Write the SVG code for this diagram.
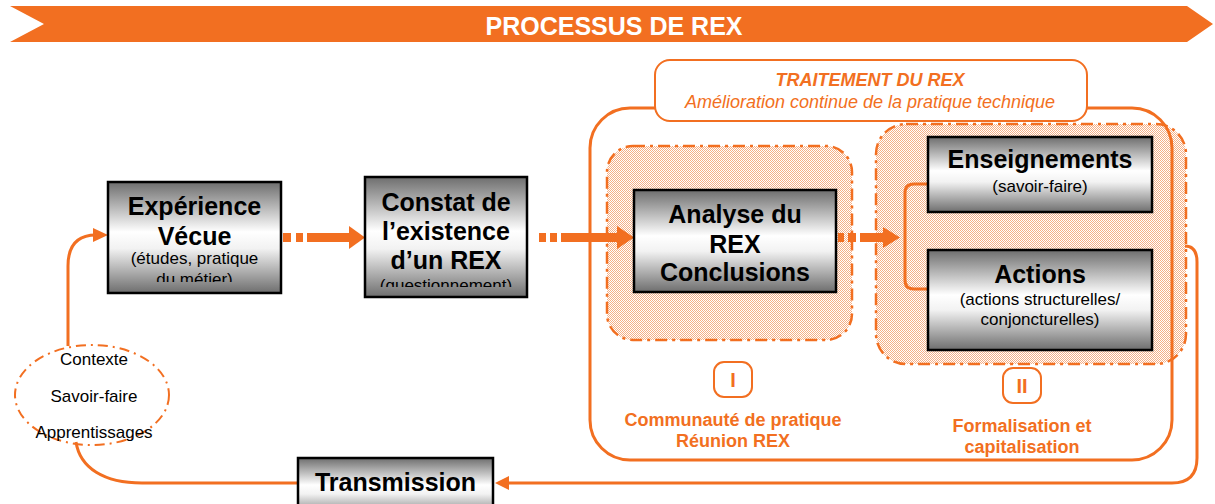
<svg xmlns="http://www.w3.org/2000/svg" width="1215" height="504" viewBox="0 0 1215 504">
<defs>
<linearGradient id="boxg" x1="0" y1="0" x2="0" y2="1">
<stop offset="0" stop-color="#6e6e6e"/>
<stop offset="0.45" stop-color="#ffffff"/>
<stop offset="0.6" stop-color="#f2f2f2"/>
<stop offset="1" stop-color="#6e6e6e"/>
</linearGradient>
<pattern id="hatch" width="2" height="2" patternUnits="userSpaceOnUse">
<rect width="2" height="2" fill="#ffffff"/>
<rect width="1" height="1" fill="#f5b087"/>
<rect x="1" y="1" width="1" height="1" fill="#f5b087"/>
</pattern>
<clipPath id="c1"><rect x="108" y="182" width="173" height="100"/></clipPath>
<clipPath id="c2"><rect x="365" y="177" width="162" height="110"/></clipPath>
</defs>
<style>
.box{fill:url(#boxg);stroke:#000;stroke-width:2.5}
.h{font-family:"Liberation Sans",Arial,sans-serif;font-weight:bold;font-size:25px;fill:#000;text-anchor:middle}
.s{font-family:"Liberation Sans",Arial,sans-serif;font-size:17px;fill:#000;text-anchor:middle}
.o{fill:#f26f21}
.ol{fill:none;stroke:#f26f21;stroke-width:3}
.reg{fill:url(#hatch);stroke:#f26f21;stroke-width:2.5;stroke-dasharray:12 5 3 5}
.ot{font-family:"Liberation Sans",Arial,sans-serif;font-weight:bold;font-size:18px;fill:#f26f21;text-anchor:middle}
.lb{fill:#fff;stroke:#f26f21;stroke-width:2}
</style>

<g id="banner">
<polygon class="o" points="10,6 1187,6 1213,24 1187,42 10,42 44,24"/>
<text x="614" y="35" text-anchor="middle" font-family="Liberation Sans, Arial, sans-serif" font-weight="bold" font-size="25" fill="#fff">PROCESSUS DE REX</text>
</g>

<g id="region-I">
<rect class="reg" x="607" y="146" width="245" height="194" rx="26"/>
</g>
<g id="region-II">
<rect class="reg" x="876" y="124" width="310" height="240" rx="30"/>
</g>

<g id="traitement">
<rect class="ol" x="590" y="108" width="582" height="352" rx="40"/>
<rect class="lb" x="655" y="60" width="432" height="61" rx="15"/>
<text x="870" y="86" class="ot" font-style="italic">TRAITEMENT DU REX</text>
<text x="870" y="108" class="ot" font-style="italic" style="font-weight:normal">Amélioration continue de la pratique technique</text>
</g>

<g id="connectors">
<g class="o">
<rect x="283" y="233" width="8" height="9"/>
<rect x="296" y="233" width="7" height="9"/>
<rect x="307" y="233" width="43" height="9"/>
<polygon points="349,226 365,237.5 349,249"/>
<rect x="539" y="233" width="7" height="9"/>
<rect x="550" y="233" width="7" height="9"/>
<rect x="561" y="233" width="58" height="9"/>
<polygon points="617,226 634,237.5 617,249"/>
<rect x="838" y="233" width="6" height="9"/>
<rect x="848" y="233" width="8" height="9"/>
<rect x="860" y="233" width="25" height="9"/>
<polygon points="883,227 900,237.5 883,248"/>
</g>
<path class="ol" d="M928,184 L914,184 Q905,184 905,193 L905,280 Q905,289 914,289 L928,289"/>
<path class="ol" d="M68,346 L68,266 Q68,235 96,235"/>
<polygon class="o" points="93,228 108,235 93,242"/>
<path class="ol" d="M1185,246 C1193,246 1197,252 1197,262 L1197,458 Q1197,483 1172,483 L508,483"/>
<polygon class="o" points="509,476 495,483 509,490"/>
<path class="ol" d="M298,483 L142,483 C104,483 80,468 76,442"/>
</g>

<g id="experience">
<rect class="box" x="108" y="182" width="173" height="111"/>
<g clip-path="url(#c1)">
<text class="h" x="194.5" y="215">Expérience</text>
<text class="h" x="194.5" y="245">Vécue</text>
<text class="s" x="194.5" y="264">(études, pratique</text>
<text class="s" x="194.5" y="285">du métier)</text>
</g>
</g>

<g id="constat">
<rect class="box" x="365" y="177" width="162" height="120"/>
<g clip-path="url(#c2)">
<text class="h" x="446" y="211">Constat de</text>
<text class="h" x="446" y="240">l’existence</text>
<text class="h" x="446" y="269">d’un REX</text>
<text class="s" x="446" y="291">(questionnement)</text>
</g>
</g>

<g id="analyse">
<rect class="box" x="634" y="190" width="202" height="102"/>
<text class="h" x="735" y="223">Analyse du</text>
<text class="h" x="735" y="253">REX</text>
<text class="h" x="735" y="281">Conclusions</text>
</g>

<g id="enseignements">
<rect class="box" x="928" y="137" width="224" height="75"/>
<text class="h" x="1040" y="168">Enseignements</text>
<text class="s" x="1040" y="192">(savoir-faire)</text>
</g>

<g id="actions">
<rect class="box" x="928" y="250" width="224" height="100"/>
<text class="h" x="1040" y="283">Actions</text>
<text class="s" x="1040" y="305">(actions structurelles/</text>
<text class="s" x="1040" y="325">conjoncturelles)</text>
</g>

<g id="label-I">
<rect class="lb" x="714" y="362" width="38" height="35" rx="10"/>
<text class="ot" x="733" y="387" style="font-size:20px">I</text>
<text class="ot" x="733" y="426">Communauté de pratique</text>
<text class="ot" x="733" y="447">Réunion REX</text>
</g>

<g id="label-II">
<rect class="lb" x="1003" y="368" width="38" height="35" rx="10"/>
<text class="ot" x="1022" y="393" style="font-size:20px">II</text>
<text class="ot" x="1022" y="432">Formalisation et</text>
<text class="ot" x="1022" y="453">capitalisation</text>
</g>

<g id="contexte">
<ellipse cx="92" cy="395" rx="77" ry="50" fill="none" stroke="#f26f21" stroke-width="2" stroke-dasharray="10 5 2 5"/>
<text class="s" x="94" y="365">Contexte</text>
<text class="s" x="94" y="402">Savoir-faire</text>
<text class="s" x="94" y="438">Apprentissages</text>
</g>

<g id="transmission">
<rect class="box" x="298" y="458" width="195" height="60"/>
<text class="h" x="395.5" y="491">Transmission</text>
</g>
</svg>
